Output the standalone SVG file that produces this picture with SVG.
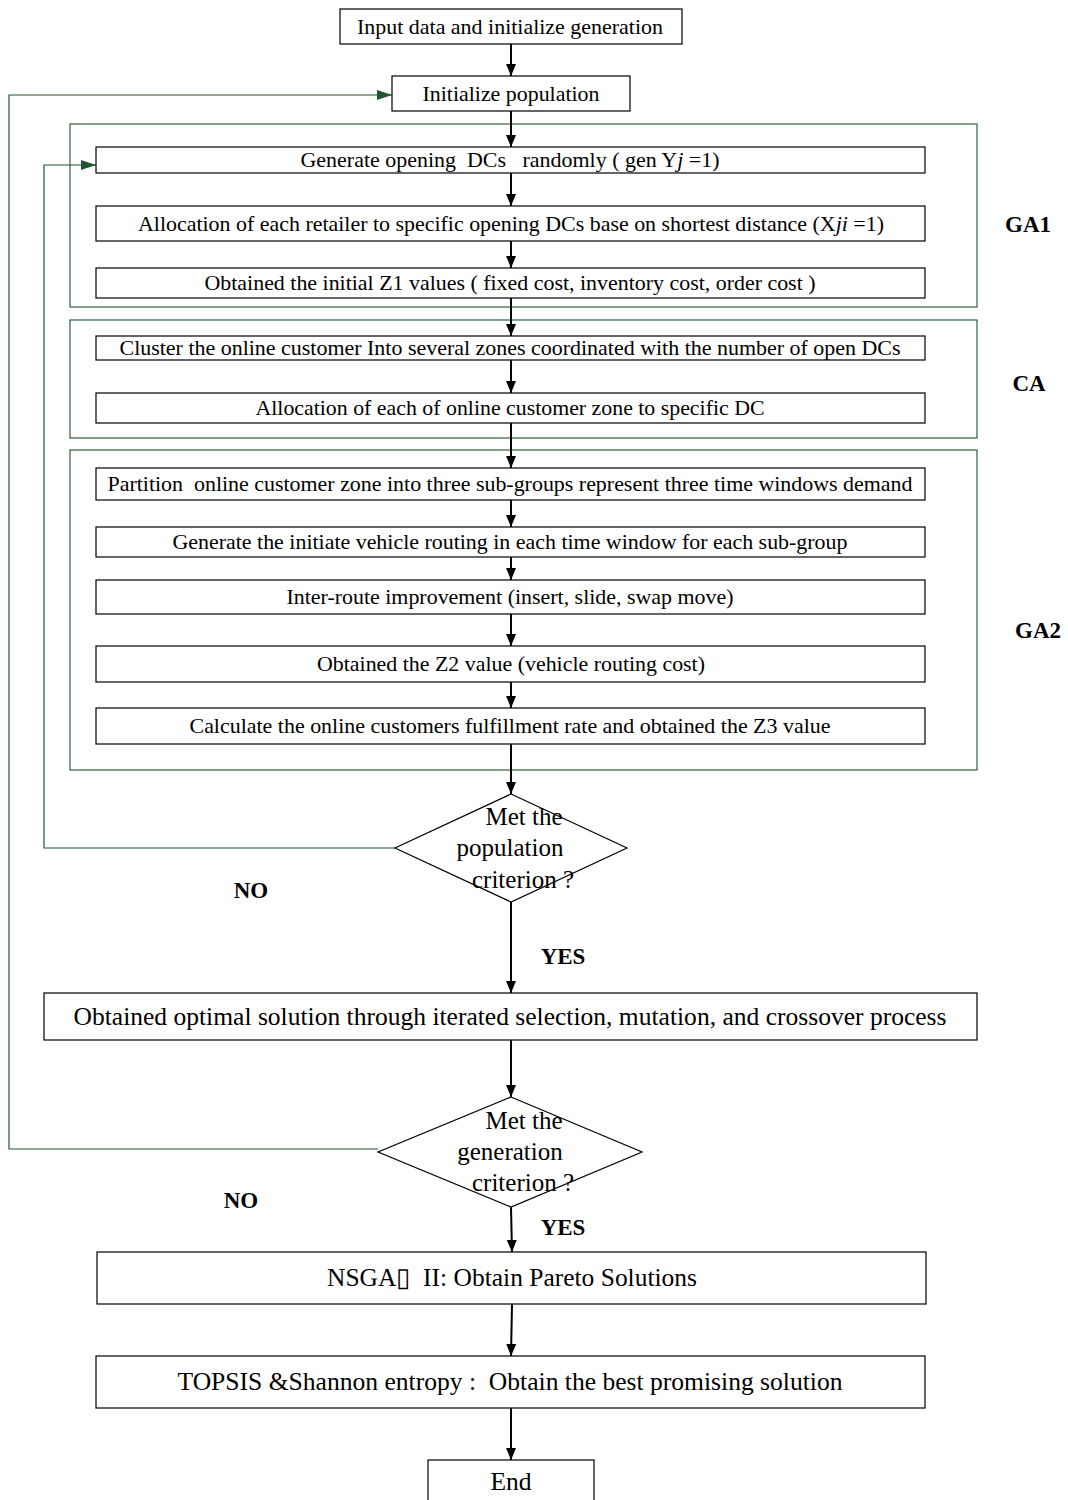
<svg xmlns="http://www.w3.org/2000/svg" width="1068" height="1500" viewBox="0 0 1068 1500">
<style>
.box{fill:#fff;stroke:#000;stroke-width:1.2}
.frame{fill:none;stroke:#2f5f3c;stroke-width:1.2}
.dia{fill:#fff;stroke:#000;stroke-width:1.2}
.t{font-family:"Liberation Serif","Times New Roman",serif;font-size:22px;fill:#000;text-anchor:middle}
.tl{font-family:"Liberation Serif","Times New Roman",serif;font-size:25.5px;fill:#000;text-anchor:middle}
.td{font-family:"Liberation Serif","Times New Roman",serif;font-size:25px;fill:#000;text-anchor:middle}
.lab{font-family:"Liberation Serif","Times New Roman",serif;font-size:23px;font-weight:bold;fill:#000;text-anchor:middle}
.arr{fill:none;stroke:#000;stroke-width:2;marker-end:url(#ah)}
.loop{fill:none;stroke:#1e5631;stroke-width:1.2;marker-end:url(#gh)}
</style>
<defs>
<marker id="ah" viewBox="0 0 12 10" refX="12" refY="5" markerWidth="12" markerHeight="10" markerUnits="userSpaceOnUse" orient="auto"><path d="M0,0 L12,5 L0,10 z" fill="#000"/></marker>
<marker id="gh" viewBox="0 0 15 10" refX="15" refY="5" markerWidth="15" markerHeight="10" markerUnits="userSpaceOnUse" orient="auto"><path d="M0,0 L15,5 L0,10 z" fill="#1e5631"/></marker>
</defs>
<rect width="1068" height="1500" fill="#fff"/>

<g id="frames">
<rect id="frame-GA1" class="frame" x="70" y="124" width="907" height="183"/>
<rect id="frame-CA" class="frame" x="70" y="320" width="907" height="118"/>
<rect id="frame-GA2" class="frame" x="70" y="450" width="907" height="320"/>
</g>

<g id="connectors">
<line class="arr" x1="511" y1="44" x2="511" y2="76"/>
<line class="arr" x1="511" y1="111" x2="511" y2="147"/>
<line class="arr" x1="511" y1="173" x2="511" y2="206"/>
<line class="arr" x1="511" y1="241" x2="511" y2="268"/>
<line class="arr" x1="511" y1="298" x2="511" y2="336"/>
<line class="arr" x1="511" y1="360" x2="511" y2="393"/>
<line class="arr" x1="511" y1="423" x2="511" y2="468"/>
<line class="arr" x1="511" y1="500" x2="511" y2="527"/>
<line class="arr" x1="511" y1="557" x2="511" y2="580"/>
<line class="arr" x1="511" y1="614" x2="511" y2="646"/>
<line class="arr" x1="511" y1="682" x2="511" y2="708"/>
<line class="arr" x1="511" y1="744" x2="511" y2="794"/>
<line class="arr" x1="511" y1="902" x2="511" y2="993"/>
<line class="arr" x1="511" y1="1040" x2="511" y2="1097"/>
<line class="arr" x1="511" y1="1207" x2="512" y2="1252"/>
<line class="arr" x1="512" y1="1304" x2="511" y2="1356"/>
<line class="arr" x1="511" y1="1408" x2="511" y2="1460"/>
<polyline class="loop" points="395,848 44,848 44,165 96,165"/>
<polyline class="loop" points="378,1149 9,1149 9,95 392,95"/>
</g>

<g id="n-input"><rect class="box" x="340" y="9" width="342" height="35"/><text class="t" x="510" y="34" textLength="306" lengthAdjust="spacingAndGlyphs">Input data and initialize generation</text></g>
<g id="n-initpop"><rect class="box" x="392" y="76" width="238" height="35"/><text class="t" x="511" y="101" textLength="177" lengthAdjust="spacingAndGlyphs">Initialize population</text></g>

<g id="n-gen-dcs"><rect class="box" x="96" y="147" width="829" height="26"/><text class="t" x="510" y="167" textLength="419" lengthAdjust="spacingAndGlyphs" xml:space="preserve">Generate opening  DCs   randomly ( gen Y<tspan font-style="italic">j</tspan> =1)</text></g>
<g id="n-alloc-ret"><rect class="box" x="96" y="206" width="829" height="35"/><text class="t" x="511" y="231" textLength="746" lengthAdjust="spacingAndGlyphs">Allocation of each retailer to specific opening DCs base on shortest distance (X<tspan font-style="italic">ji</tspan> =1)</text></g>
<g id="n-z1"><rect class="box" x="96" y="268" width="829" height="30"/><text class="t" x="510" y="290" textLength="611" lengthAdjust="spacingAndGlyphs">Obtained the initial Z1 values ( fixed cost, inventory cost, order cost )</text></g>

<g id="n-cluster"><rect class="box" x="96" y="336" width="829" height="24"/><text class="t" x="510" y="355" textLength="781" lengthAdjust="spacingAndGlyphs">Cluster the online customer Into several zones coordinated with the number of open DCs</text></g>
<g id="n-alloc-zone"><rect class="box" x="96" y="393" width="829" height="30"/><text class="t" x="510" y="415" textLength="509" lengthAdjust="spacingAndGlyphs">Allocation of each of online customer zone to specific DC</text></g>

<g id="n-partition"><rect class="box" x="96" y="468" width="829" height="32"/><text class="t" x="510" y="491" textLength="805" lengthAdjust="spacingAndGlyphs" xml:space="preserve">Partition  online customer zone into three sub-groups represent three time windows demand</text></g>
<g id="n-routing"><rect class="box" x="96" y="527" width="829" height="30"/><text class="t" x="510" y="549" textLength="675" lengthAdjust="spacingAndGlyphs">Generate the initiate vehicle routing in each time window for each sub-group</text></g>
<g id="n-inter"><rect class="box" x="96" y="580" width="829" height="34"/><text class="t" x="510" y="604" textLength="447" lengthAdjust="spacingAndGlyphs">Inter-route improvement (insert, slide, swap move)</text></g>
<g id="n-z2"><rect class="box" x="96" y="646" width="829" height="36"/><text class="t" x="511" y="671" textLength="388" lengthAdjust="spacingAndGlyphs">Obtained the Z2 value (vehicle routing cost)</text></g>
<g id="n-z3"><rect class="box" x="96" y="708" width="829" height="36"/><text class="t" x="510" y="733" textLength="641" lengthAdjust="spacingAndGlyphs">Calculate the online customers fulfillment rate and obtained the Z3 value</text></g>

<g id="n-dia-pop"><polygon class="dia" points="511,794 627,848 511,902 395,848"/>
<text class="td" x="524" y="825">Met the</text><text class="td" x="510" y="856">population</text><text class="td" x="523" y="888">criterion ?</text></g>

<g id="n-optimal"><rect class="box" x="44" y="993" width="933" height="47"/><text class="tl" x="510" y="1025" textLength="873" lengthAdjust="spacingAndGlyphs">Obtained optimal solution through iterated selection, mutation, and crossover process</text></g>

<g id="n-dia-gen"><polygon class="dia" points="511,1097 642,1152 511,1207 378,1152"/>
<text class="td" x="524" y="1129">Met the</text><text class="td" x="510" y="1160">generation</text><text class="td" x="523" y="1191">criterion ?</text></g>

<g id="n-nsga"><rect class="box" x="97" y="1252" width="829" height="52"/><text class="tl" x="512" y="1286" textLength="370" lengthAdjust="spacingAndGlyphs" xml:space="preserve">NSGA▯  II: Obtain Pareto Solutions</text></g>
<g id="n-topsis"><rect class="box" x="96" y="1356" width="829" height="52"/><text class="tl" x="510" y="1390" textLength="665" lengthAdjust="spacingAndGlyphs" xml:space="preserve">TOPSIS &amp;Shannon entropy :  Obtain the best promising solution</text></g>
<g id="n-end"><rect class="box" x="428" y="1460" width="166" height="45"/><text class="tl" x="511" y="1490">End</text></g>

<g id="labels">
<text class="lab" x="1028" y="232">GA1</text>
<text class="lab" x="1029" y="391">CA</text>
<text class="lab" x="1038" y="638">GA2</text>
<text class="lab" x="251" y="898">NO</text>
<text class="lab" x="563" y="964">YES</text>
<text class="lab" x="241" y="1208">NO</text>
<text class="lab" x="563" y="1235">YES</text>
</g>
</svg>
